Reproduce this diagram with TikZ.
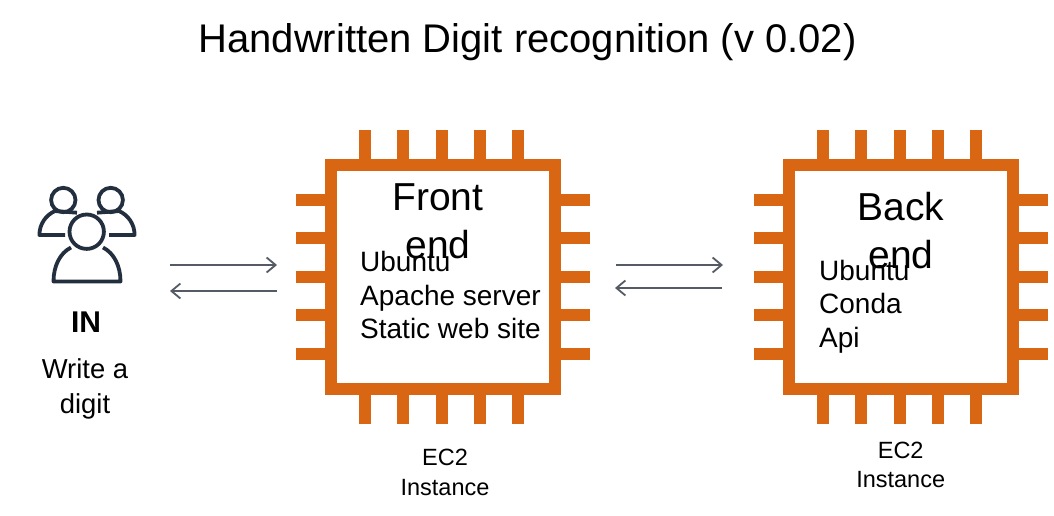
\documentclass[tikz,border=0pt]{standalone}
\usepackage{fontspec}
\setmainfont{Liberation Sans}
\usetikzlibrary{arrows.meta}
\definecolor{ecOrange}{HTML}{D86613}
\definecolor{ecInk}{HTML}{232F3E}
\definecolor{ecLink}{HTML}{545B64}
\tikzset{
  chipbox/.style={draw=ecOrange, fill=white, line width=12pt, minimum size=224pt, inner sep=0pt},
  usersline/.style={draw=ecInk, line width=3.8pt, line join=round},
  linkarrow/.style={draw=ecLink, line width=1.8pt, -{Straight Barb[length=9pt, width=15pt]}},
  headtext/.style={anchor=base, inner sep=0pt, align=center, font=\fontsize{39}{48}\selectfont},
  listtext/.style={anchor=base west, inner sep=0pt, align=left, font=\fontsize{28}{33.4}\selectfont},
  captext/.style={anchor=base, inner sep=0pt, align=center, font=\fontsize{23.5}{29.6}\selectfont}
}
\begin{document}
\begin{tikzpicture}[x=1pt, y=-1pt]
\useasboundingbox (0,0) rectangle (1054,516);
% title
\node[anchor=base, inner sep=0pt, font=\fontsize{40}{48}\selectfont] (title) at (527.5,53) {Handwritten Digit recognition (v 0.02)};
% users
\draw[usersline] (63.3,200) circle (12.2);
\draw[usersline] (110.7,200) circle (12.2);
\draw[usersline, fill=white] (86.7,231.7) circle (17.2);
\draw[usersline] (65,235) -- (39.4,235) .. controls (39.4,224) and (46,215) .. (55,211) -- (77,212.7);
\draw[usersline] (109,235) -- (134.6,235) .. controls (134.6,224) and (128,215) .. (119,211) -- (97,212.7);
\draw[usersline] (71,247.5) .. controls (60,253) and (53.5,266) .. (53.5,281.5) -- (120.5,281.5)
  .. controls (120.5,266) and (114,253) .. (103,247.5);
\node[anchor=base, inner sep=0pt, font=\bfseries\fontsize{30}{36}\selectfont] (userstag) at (86,332.7) {IN};
\node[captext, font=\fontsize{27.4}{34.5}\selectfont] (usersnote) at (85,413) {Write a\\digit};
% pins and frames
\foreach \cx/\chipname in {443/frontchip, 901/backchip} {
  \foreach \d in {-78,-39.6,-1.2,37.2,75.6} {
    \fill[ecOrange] (\cx+\d-6.3,130) rectangle +(12,294);
    \fill[ecOrange] (\cx-147,272+\d) rectangle +(294,12);
  }
  \node[chipbox] (\chipname) at (\cx,277) {};
}
% texts in the chips
\node[headtext] (fronthead) at (438,258.5) {Front\\end};
\node[listtext] (frontlist) at (360,338.5) {Ubuntu\\Apache server\\Static web site};
\node[headtext] (backhead) at (901,268) {Back\\end};
\node[listtext] (backlist) at (819,347) {Ubuntu\\Conda\\Api};
\node[captext] (frontcap) at (445,495) {EC2\\Instance};
\node[captext] (backcap) at (900.7,487.7) {EC2\\Instance};
% links
\coordinate (usersout) at (170,265);
\coordinate (frontin) at (277,265);
\coordinate (frontback) at (277,291);
\coordinate (usersback) at (170,291);
\coordinate (frontout) at (616,265);
\coordinate (backin) at (723,265);
\coordinate (backback) at (722,288);
\coordinate (frontret) at (615,288);
\draw[linkarrow] (usersout) -- (frontin);
\draw[linkarrow] (frontback) -- (usersback);
\draw[linkarrow] (frontout) -- (backin);
\draw[linkarrow] (backback) -- (frontret);
\end{tikzpicture}
\end{document}
